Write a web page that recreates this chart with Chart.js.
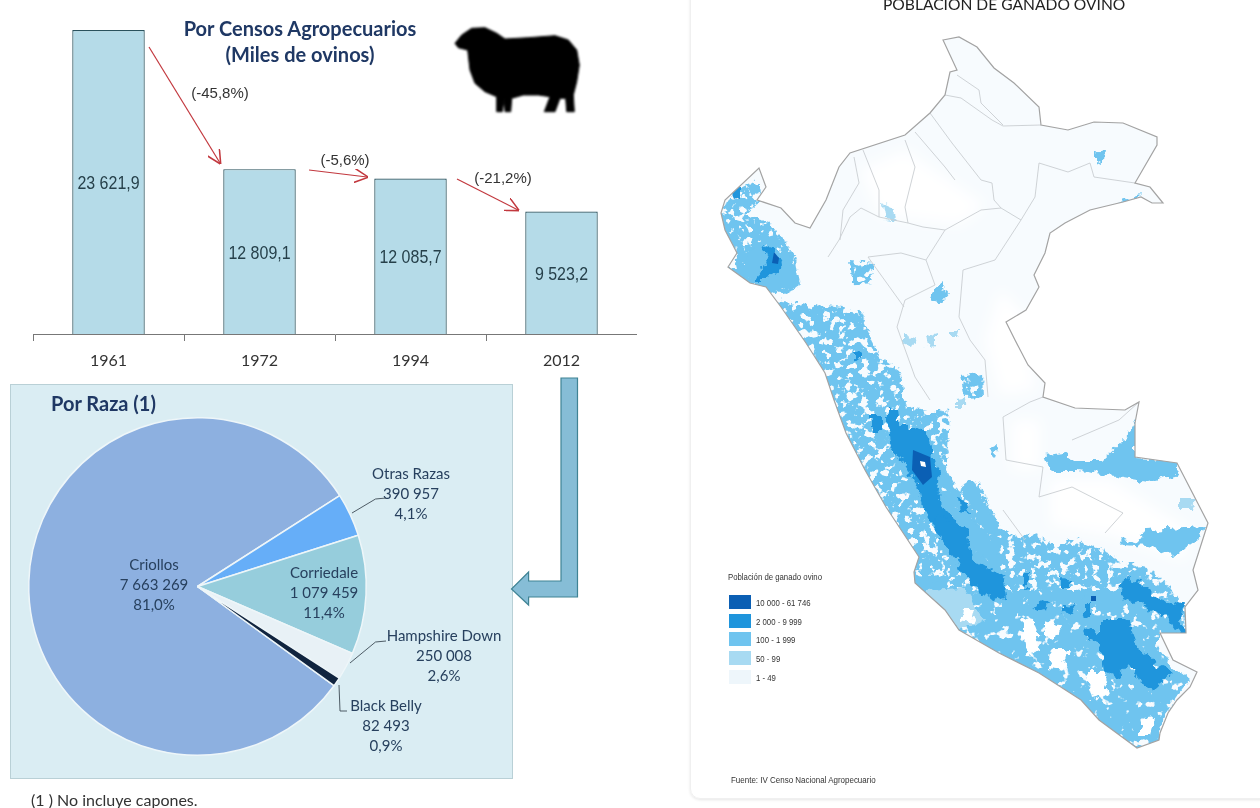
<!DOCTYPE html>
<html lang="es">
<head>
<meta charset="UTF-8">
<title>Población de ganado ovino</title>
<script src="https://cdn.jsdelivr.net/npm/chart.js"></script>
<style>
  html, body { margin: 0; padding: 0; background: #fff; overflow: hidden; }
  body { width: 1260px; height: 808px; position: relative; font-family: Lato, sans-serif; color: #222; }
  .abs { position: absolute; white-space: nowrap; line-height: 1; }
  canvas { position: absolute; }
  svg { position: absolute; left: 0; top: 0; }
  #panel { position: absolute; left: 10px; top: 384px; width: 501px; height: 393px; background: #daedf3; border: 1px solid #b9d0d6; }
  #mapCard { position: absolute; left: 690px; top: -12px; width: 600px; height: 809px; border: 1px solid #f0f0f0; border-radius: 10px; box-shadow: 0 1px 3px #e6e6e6; }
  .title { font-weight: 700; color: #1f3864; font-size: 20px; }
  .legendTxt { font-family: "Liberation Sans", sans-serif; font-size: 9.5px; color: #333; transform: scaleX(.82); transform-origin: left center; filter: blur(.25px); }
  .swatch { position: absolute; left: 729px; width: 22px; height: 14px; }
</style>
</head>
<body>
<div id="panel"></div>
<div id="mapCard"></div>

<svg width="1260" height="808" viewBox="0 0 1260 808" id="map">
  <defs>
    <clipPath id="peru"><polygon id="peruClip" points=""/></clipPath>
    <filter id="rag" x="-10%" y="-10%" width="120%" height="120%" color-interpolation-filters="sRGB">
      <feTurbulence type="fractalNoise" baseFrequency="0.11" numOctaves="3" seed="4" result="n"/>
      <feDisplacementMap in="SourceGraphic" in2="n" scale="12" xChannelSelector="R" yChannelSelector="G"/>
      <feGaussianBlur stdDeviation="0.5"/>
    </filter>
    <filter id="holes" x="-5%" y="-5%" width="110%" height="110%" color-interpolation-filters="sRGB">
      <feTurbulence type="fractalNoise" baseFrequency="0.13" numOctaves="3" seed="11" result="n"/>
      <feColorMatrix in="n" type="matrix" values="0 0 0 0 0  0 0 0 0 0  0 0 0 0 0  14 0 0 0 -5.3" result="m"/>
      <feDisplacementMap in="SourceGraphic" in2="n" scale="10" xChannelSelector="R" yChannelSelector="G" result="d"/>
      <feComposite in="d" in2="m" operator="in"/>
      <feGaussianBlur stdDeviation="0.5"/>
    </filter>
    <filter id="fewHoles" x="-5%" y="-5%" width="110%" height="110%" color-interpolation-filters="sRGB">
      <feTurbulence type="fractalNoise" baseFrequency="0.1" numOctaves="3" seed="7" result="n"/>
      <feColorMatrix in="n" type="matrix" values="0 0 0 0 0  0 0 0 0 0  0 0 0 0 0  14 0 0 0 -4.4" result="m"/>
      <feDisplacementMap in="SourceGraphic" in2="n" scale="10" xChannelSelector="R" yChannelSelector="G" result="d"/>
      <feComposite in="d" in2="m" operator="in"/>
      <feGaussianBlur stdDeviation="0.5"/>
    </filter>
    <filter id="soft"><feGaussianBlur stdDeviation="7"/></filter>
    <filter id="lineBlur"><feGaussianBlur stdDeviation="0.35"/></filter>
  </defs>
  <polygon id="peruBase" fill="#f7fbfe" points=""/>
  <g clip-path="url(#peru)">
    <g filter="url(#soft)" fill="#fff">
      <polygon points="860,170 905,150 985,205 960,225 880,215"/>
      <polygon points="1000,290 1025,315 1035,390 1000,395 985,340"/>
      <polygon points="1050,480 1110,480 1190,530 1185,560 1110,535 1050,525"/>
      <polygon points="1012,420 1040,420 1040,470 1012,470"/>
    </g>
    <!-- 100 - 1 999, north and centre, broken up -->
    <g filter="url(#holes)" fill="#6fc4ef">
      <polygon points="735,190 758,178 762,200 745,215 770,222 795,255 800,285 785,295 755,288 725,270 738,255 726,235 720,213"/>
      <polygon points="775,300 860,310 880,357 900,370 907,407 950,413 947,470 967,507 980,483 993,517 1013,537 1033,535 1053,543 1073,538 1103,550 1123,562 1147,567 1170,587 1183,607 1120,610 1040,610 990,620 940,610 905,575 880,505 860,470 842,430 822,373 803,343"/>
      <polygon points="960,375 983,373 984,397 965,398"/>
      <polygon points="850,260 875,262 870,285 852,283"/>
    </g>
    <!-- 100 - 1 999, south, mostly solid -->
    <g filter="url(#fewHoles)" fill="#6fc4ef">
      <polygon points="905,570 960,590 1040,590 1120,590 1183,607 1187,630 1180,638 1160,630 1157,647 1173,667 1190,680 1177,697 1167,713 1160,730 1160,745 1137,755 1095,725 1040,680 995,658 955,635 910,590"/>
      <polygon points="886,430 930,437 947,470 967,507 1000,540 1003,595 960,570 925,510 900,470"/>
    </g>
    <g filter="url(#rag)" fill="#6fc4ef">
      <polygon points="755,240 790,255 800,285 770,292 730,270 745,262"/>
      <polygon points="1044,455 1065,453 1075,461 1101,461 1126,437 1136,420 1136,458 1178,461 1176,475 1148,482 1115,476 1079,471 1050,471"/>
      <polygon points="960,490 973,480 993,517 1003,535 985,530"/>
      <polygon points="1120,538 1137,543 1147,530 1205,527 1200,537 1173,555 1147,547 1123,545"/>
      <polygon points="932,290 942,282 947,296 940,305 930,298"/>
      <polygon points="1096,153 1103,151 1102,162 1096,165"/>
      <polygon points="1117,202 1140,195 1138,200 1120,207"/>
      <polygon points="988,450 998,445 996,458"/>
    </g>
    <g filter="url(#rag)" fill="#a8daf2">
      <polygon points="924,590 965,588 985,620 960,628 935,608"/>
      <polygon points="883,203 892,207 896,220 885,218"/>
      <polygon points="904,335 914,338 910,346 904,344"/>
      <polygon points="926,335 936,332 936,345 928,346"/>
      <polygon points="951,330 960,330 958,338 951,338"/>
      <polygon points="955,400 968,398 966,408 955,408"/>
      <polygon points="1180,498 1196,498 1194,510 1180,510"/>
    </g>
    <!-- gaps in the southern belt -->
    <g filter="url(#rag)" fill="#fff">
      <polygon points="1022,618 1034,620 1040,650 1026,655"/>
      <polygon points="1085,672 1105,672 1110,695 1092,700"/>
      <polygon points="1140,720 1155,718 1150,735 1140,735"/>
      <polygon points="962,610 975,610 972,622 960,620"/>
      <polygon points="1045,620 1060,625 1055,640 1045,635"/>
      <polygon points="1050,650 1070,650 1062,670 1048,668"/>
    </g>
    <g filter="url(#rag)" fill="#1f95dc">
      <polygon points="888,407 898,410 900,427 913,427 930,437 932,460 940,473 937,500 947,513 967,530 960,540 975,575 997,573 1003,593 993,600 973,587 960,570 948,535 937,533 923,507 918,485 907,470 890,443 888,427"/>
      <polygon points="937,513 966,533 974,560 1003,577 1006,597 992,600 970,580 952,557 934,527"/>
      <polygon points="872,415 882,415 882,430 872,430"/>
      <polygon points="1083,627 1100,633 1100,620 1127,620 1137,647 1160,667 1173,673 1153,690 1140,683 1130,663 1117,677 1103,670 1100,643 1087,637"/>
      <polygon points="1127,577 1147,587 1160,600 1183,607 1180,623 1187,630 1180,637 1167,617 1147,607 1120,597 1123,580"/>
      <polygon points="1022,573 1028,573 1028,590 1022,588"/>
      <polygon points="1033,607 1048,600 1046,610 1036,612"/>
      <polygon points="1062,580 1072,582 1072,590 1062,590"/>
      <polygon points="1062,603 1075,605 1072,613 1062,612"/>
      <polygon points="1083,603 1090,603 1090,617 1083,615"/>
      <polygon points="957,500 968,503 970,512 959,510"/>
      <polygon points="755,280 768,262 763,245 776,250 783,262 768,280"/>
      <polygon points="732,192 740,187 740,197 735,199"/>
      <polygon points="855,352 861,354 861,362 855,360"/>
    </g>
    <g fill="#0b5fb4">
      <polygon points="913,450 930,457 932,477 923,485 912,470"/>
      <polygon points="774,252 779,258 778,264 772,263"/>
      <polygon points="1091,596 1096,596 1096,601 1091,601"/>
    </g>
    <polygon points="920,461 925,462 926,467 921,466" fill="#fff"/>
  </g>
  <g fill="none" stroke="#c9ced1" stroke-width="0.9" filter="url(#lineBlur)">
    <polyline points="957,75 979,90 981,103 1003,125"/>
    <polyline points="945,95 961,98 992,120 1003,126 1041,125"/>
    <polyline points="930,113 952,143 981,180 992,183 994,200 1001,208 981,210 945,230 923,227 908,223 879,217 861,208 850,217 839,240 828,257"/>
    <polyline points="915,132 945,167 955,180"/>
    <polyline points="905,140 915,167 905,207 908,223"/>
    <polyline points="863,150 879,190 879,217"/>
    <polyline points="854,157 859,183 843,210 840,240"/>
    <polyline points="1001,208 1021,220 995,260 963,270 959,317 970,340 985,360 988,397"/>
    <polyline points="945,230 926,260 935,285 905,300 897,327 915,377 930,400"/>
    <polyline points="926,260 901,253 868,257 904,307"/>
    <polyline points="1039,163 1068,172 1090,163 1094,177 1135,183"/>
    <polyline points="1039,163 1035,197 1021,220"/>
    <polyline points="1003,417 1006,460 1043,467 1039,497 1072,487 1123,513 1105,533"/>
    <polyline points="1003,510 1025,540"/>
    <polyline points="1072,440 1119,420 1139,402"/>
    <polyline points="1003,417 1030,402 1043,397"/>
  </g>
  <polygon id="peruLine" fill="none" stroke="#a3a3a3" stroke-width="1.2" filter="url(#lineBlur)" points=""/>
</svg>

<canvas id="barChart" width="604" height="375" style="left:33px;top:0"></canvas>
<canvas id="pieChart" width="502" height="394" style="left:10px;top:384px"></canvas>

<svg width="1260" height="808" viewBox="0 0 1260 808">
  <defs>
    <marker id="head" viewBox="0 0 10 10" refX="9" refY="5" markerWidth="14" markerHeight="14" markerUnits="userSpaceOnUse" orient="auto">
      <path d="M0,0 L10,5 L0,10" fill="none" stroke="#c2383e" stroke-width="1.1"/>
    </marker>
    <filter id="sheepBlur"><feGaussianBlur stdDeviation="0.8"/></filter>
  </defs>
  <g stroke="#c2383e" stroke-width="1.2" fill="none">
    <line x1="149" y1="47" x2="220" y2="163" marker-end="url(#head)"/>
    <line x1="309" y1="170" x2="367" y2="177" marker-end="url(#head)"/>
    <line x1="457" y1="179" x2="518" y2="210" marker-end="url(#head)"/>
  </g>
  <polygon points="561,378 577.5,378 577.5,597 528.6,597 528.6,605 511.5,589 528.6,572 528.6,581 561,581" fill="#86bdd6" stroke="#3f8394" stroke-width="1.2"/>
  <polygon filter="url(#sheepBlur)" fill="#000" stroke="#000" stroke-width="1" stroke-linejoin="round" points="455,43.3 461.7,35 471.7,28.3 485,27.7 496.7,33.3 505,39 528.3,37.7 555,35.7 568.3,40 576.7,50 579.3,65 576.7,81.7 573.3,95 574.3,111.7 566.7,111.7 565.7,98.3 560,98.3 555,111.7 544.3,111.7 550,96.7 538.3,95 523.3,95 511.7,98.3 510.7,111.7 505,111.7 504.3,98.3 502.3,111.7 496.7,111.7 496.7,96.7 485,91.7 475,83.3 470,70 467.7,50 458.3,47.7"/>
  <g fill="none" stroke="#3d4b55" stroke-width="0.9">
    <polyline points="352,513 375.5,499 386,498"/>
    <polyline points="350,663 375.5,642 386,641"/>
    <polyline points="339,685 340,711 347,711"/>
  </g>
</svg>

<div class="abs title" style="left:300px;top:18px;transform:translateX(-50%)">Por Censos Agropecuarios</div>
<div class="abs title" style="left:300px;top:44px;transform:translateX(-50%)">(Miles de ovinos)</div>
<div class="abs title" style="left:51px;top:393px">Por Raza (1)</div>
<div class="abs" style="left:31px;top:792px;font-size:16px;color:#333">(1 ) No incluye capones.</div>
<div class="abs" style="left:883px;top:-3px;font-size:15.6px;color:#222">POBLACIÓN DE GANADO OVINO</div>
<div class="abs legendTxt" style="left:728px;top:572px">Población de ganado ovino</div>
<div class="abs legendTxt" style="left:731px;top:775px;transform:scaleX(.84)">Fuente: IV Censo Nacional Agropecuario</div>
<div id="mapLegend"></div>
<div id="changes"></div>

<script>
  // Censos
  const censusYears = ['1961', '1972', '1994', '2012'];
  const censusValues = [23621.9, 12809.1, 12085.7, 9523.2];
  const censusLabels = ['23 621,9', '12 809,1', '12 085,7', '9 523,2'];
  const changeLabels = ['(-45,8%)', '(-5,6%)', '(-21,2%)'];

  // Razas
  const breeds = ['Criollos', 'Otras Razas', 'Corriedale', 'Hampshire Down', 'Black Belly'];
  const breedValues = [7663269, 390957, 1079459, 250008, 82493];
  const breedValueLabels = ['7 663 269', '390 957', '1 079 459', '250 008', '82 493'];
  const breedPercents = ['81,0%', '4,1%', '11,4%', '2,6%', '0,9%'];
  const breedColors = ['#8db0e0', '#66aef8', '#96cddc', '#e8f1f6', '#10243f'];

  // Mapa
  const mapLegendLabels = ['10 000 - 61 746', '2 000 - 9 999', '100 - 1 999', '50 - 99', '1 - 49'];
  const mapLegendColors = ['#0b5fb4', '#1f95dc', '#6fc4ef', '#a8daf2', '#eef6fb'];

  // label anchors in page pixels, kept apart from the data
  const changeAnchors = [[220, 92], [345, 159], [503, 177]];
  const breedAnchors = [[154, 565], [411, 474], [324, 573], [444, 636], [386, 706]];
  const legendRows = [595, 614, 632, 651, 670];

  const outline = '943,40 959,37 977,47 994,68 1014,83 1039,107 1041,125 1068,130 1094,122 1123,123 1157,137 1157,145 1135,183 1150,187 1163,203 1152,203 1141,197 1123,202 1090,210 1065,223 1050,233 1045,253 1034,275 1039,287 1026,310 1006,322 1015,340 1028,365 1045,383 1043,397 1075,408 1125,410 1139,402 1135,423 1135,457 1177,463 1208,523 1193,570 1198,590 1185,607 1186,633 1160,633 1173,660 1197,672 1190,687 1177,700 1168,713 1160,733 1159,740 1137,748 1099,720 1081,700 1039,673 999,653 959,630 945,610 915,583 914,572 919,557 886,507 865,470 846,433 834,400 825,373 806,343 781,307 766,287 750,283 728,267 737,253 725,230 721,213 725,200 759,168 766,187 757,200 781,208 795,223 810,228 826,200 839,167 850,153 905,135 930,113 945,95 950,72 957,70';
  ['peruClip', 'peruBase', 'peruLine'].forEach(id => document.getElementById(id).setAttribute('points', outline));

  changeLabels.forEach((txt, i) => {
    const d = document.createElement('div');
    d.className = 'abs';
    d.textContent = txt;
    d.style.cssText = `left:${changeAnchors[i][0]}px;top:${changeAnchors[i][1]}px;transform:translate(-50%,-50%);font:15px "Liberation Sans",sans-serif;color:#333`;
    document.getElementById('changes').appendChild(d);
  });

  mapLegendLabels.forEach((txt, i) => {
    const box = document.createElement('div');
    box.className = 'swatch';
    box.style.top = legendRows[i] + 'px';
    box.style.background = mapLegendColors[i];
    const lab = document.createElement('div');
    lab.className = 'abs legendTxt';
    lab.textContent = txt;
    lab.style.left = '756px';
    lab.style.top = (legendRows[i] + 3) + 'px';
    const holder = document.getElementById('mapLegend');
    holder.appendChild(box);
    holder.appendChild(lab);
  });

  // value text centred in each bar, squeezed like the narrow face in the original
  const barText = {
    id: 'barText',
    afterDatasetsDraw(chart) {
      const ctx = chart.ctx;
      chart.getDatasetMeta(0).data.forEach((bar, i) => {
        ctx.save();
        ctx.translate(bar.x, (bar.y + bar.base) / 2 + 2);
        ctx.scale(0.84, 1);
        ctx.font = '19px "Liberation Sans", sans-serif';
        ctx.fillStyle = '#26404a';
        ctx.textAlign = 'center';
        ctx.textBaseline = 'middle';
        ctx.fillText(censusLabels[i], 0, 0);
        ctx.restore();
      });
    }
  };

  new Chart(document.getElementById('barChart'), {
    type: 'bar',
    data: {
      labels: censusYears,
      datasets: [{
        data: censusValues,
        backgroundColor: '#b5dbe8',
        borderColor: '#2a525d',
        borderWidth: 1.2,
        categoryPercentage: 1,
        barPercentage: 0.48
      }]
    },
    options: {
      responsive: false,
      animation: false,
      layout: { padding: 0 },
      plugins: { legend: { display: false }, tooltip: { enabled: false } },
      scales: {
        y: { display: false, min: 0, max: 25950 },
        x: {
          afterFit(scale) { scale.height = 41; },
          border: { color: '#777' },
          grid: { drawOnChartArea: false, tickLength: 7, color: '#777' },
          ticks: { color: '#333', padding: 10, font: { family: 'Lato', size: 16 } }
        }
      }
    },
    plugins: [barText]
  });

  // breed labels, three lines each
  const pieText = {
    id: 'pieText',
    afterDatasetsDraw(chart) {
      const ctx = chart.ctx;
      ctx.save();
      ctx.font = '15px Lato, sans-serif';
      ctx.fillStyle = '#27405e';
      ctx.textAlign = 'center';
      ctx.textBaseline = 'middle';
      breeds.forEach((name, i) => {
        const x = breedAnchors[i][0] - 10, y = breedAnchors[i][1] - 384;
        ctx.fillText(name, x, y);
        ctx.fillText(breedValueLabels[i], x, y + 20);
        ctx.fillText(breedPercents[i], x, y + 40);
      });
      ctx.restore();
    }
  };

  new Chart(document.getElementById('pieChart'), {
    type: 'pie',
    data: {
      labels: breeds,
      datasets: [{
        data: breedValues,
        backgroundColor: breedColors,
        borderColor: '#eef6f9',
        borderWidth: 1.5
      }]
    },
    options: {
      responsive: false,
      animation: false,
      rotation: 126,
      layout: { padding: { left: 18, right: 145, top: 33, bottom: 22 } },
      plugins: { legend: { display: false }, tooltip: { enabled: false } }
    },
    plugins: [pieText]
  });
</script>
</body>
</html>
